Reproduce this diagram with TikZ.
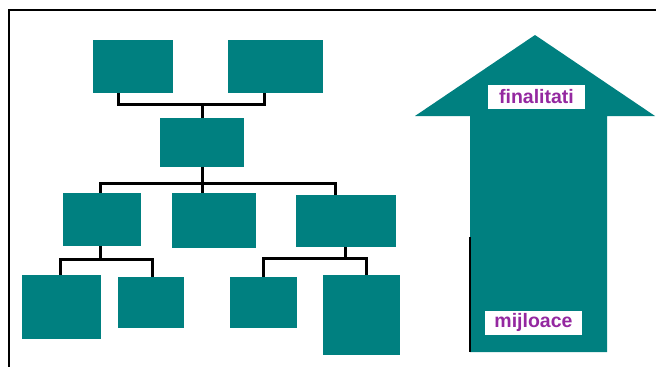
\documentclass[tikz,border=0pt]{standalone}
\usepackage{fontspec}
\setmainfont{DejaVu Sans}
\newfontfamily\tagfont{Liberation Sans}
\usepackage{tikz}
\definecolor{boxteal}{RGB}{0,128,128}
\definecolor{labelpurple}{RGB}{148,40,160}
\tikzstyle{box} = [fill=boxteal, inner sep=0pt]
\tikzstyle{link} = [line width=3pt, black]
\tikzstyle{tag} = [fill=white, text=labelpurple, font=\tagfont\bfseries\fontsize{19.5}{21}\selectfont,
  inner sep=0pt, minimum width=97pt, minimum height=24pt]

\begin{document}
\begin{tikzpicture}[x=1pt, y=-1pt]
  \useasboundingbox (0,0) rectangle (656,367);
  \draw[line width=2pt] (656,10) -- (9,10) -- (9,367);

  % organisation chart
  \node[box, minimum width=80pt, minimum height=53pt] (top1) at (133,66.5) {};
  \node[box, minimum width=95pt, minimum height=53pt] (top2) at (275.5,66.5) {};
  \node[box, minimum width=84pt, minimum height=49pt] (mid) at (202,142.5) {};
  \node[box, minimum width=78pt, minimum height=53pt] (lvA) at (102,219.5) {};
  \node[box, minimum width=84pt, minimum height=55pt] (lvB) at (214,220.5) {};
  \node[box, minimum width=100pt, minimum height=52pt] (lvC) at (346,221) {};
  \node[box, minimum width=79pt, minimum height=64pt] (leafA) at (61.5,307) {};
  \node[box, minimum width=66pt, minimum height=51pt] (leafB) at (151,302.5) {};
  \node[box, minimum width=67pt, minimum height=51pt] (leafC) at (263.5,302.5) {};
  \node[box, minimum width=77pt, minimum height=80pt] (leafD) at (361.5,315) {};

  \coordinate (bus1) at (202,104);
  \coordinate (bus2) at (202,183);
  \coordinate (bus3) at (100,259);
  \coordinate (bus4) at (345,258);

  \draw[link] ([xshift=-15pt]top1.south) |- (bus1) -| ([xshift=-11.5pt]top2.south);
  \draw[link] (bus1) -- (mid.north);
  \draw[link] (mid.south) -- (bus2);
  \draw[link] ([xshift=-2pt]lvA.north) |- (bus2) -| ([xshift=-11pt]lvC.north);
  \draw[link] (bus2) -- ([xshift=-12pt]lvB.north);
  \draw[link] ([xshift=-2pt]lvA.south) -- (bus3);
  \draw[link] ([xshift=-1.5pt]leafA.north) |- (bus3) -| ([xshift=1pt]leafB.north);
  \draw[link] ([xshift=-1pt]lvC.south) -- (bus4);
  \draw[link] (leafC.north) |- (bus4) -| ([xshift=4.5pt]leafD.north);

  % big arrow
  \fill[boxteal] (470,352) -- (470,116) -- (415,116) -- (535,35) -- (655,116)
    -- (607,116) -- (607,352) -- cycle;
  \draw[line width=2pt] (470,237) -- (470,352);
  \node[tag] (goal) at (536.5,96.5) {finalitati};
  \node[tag] (means) at (533.5,322.5) {mijloace};
\end{tikzpicture}
\end{document}
